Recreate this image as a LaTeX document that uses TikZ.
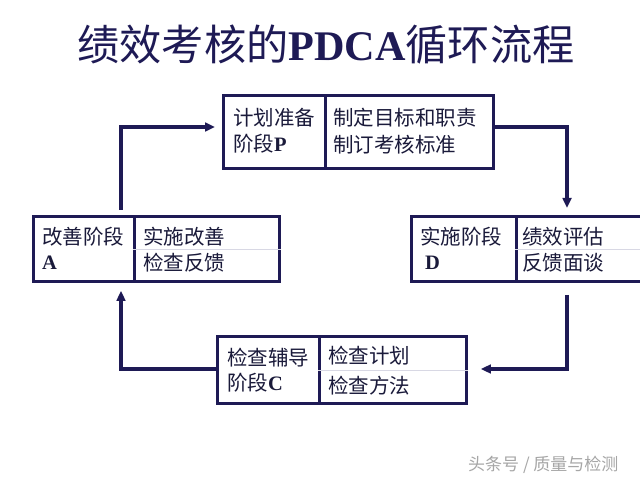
\documentclass[tikz,border=0pt]{standalone}
\usepackage{fontspec}
\setmainfont{Liberation Serif}
\newfontfamily\cjk{Noto Sans CJK SC}
\usetikzlibrary{arrows.meta}
\definecolor{navy}{HTML}{1E1A55}
\definecolor{ink}{HTML}{1A1A3A}
\definecolor{faintline}{HTML}{D8D8E4}
\begin{document}
\begin{tikzpicture}[x=0.03cm,y=-0.03cm,
  cell/.style={draw=navy,line width=2.4pt,inner sep=0pt,anchor=north west},
  txt/.style={font=\cjk\fontsize{17.5}{20}\selectfont,text=ink,inner sep=0pt,anchor=west},
  conn/.style={draw=navy,line width=2.6pt,-{Triangle[length=3mm,width=2.6mm]}},
  faint/.style={draw=faintline,line width=0.6pt}]
\useasboundingbox[fill=white] (0,0) rectangle (640,482);

% title
\node[inner sep=0pt,text=navy,font=\cjk\fontsize{36}{40}\selectfont] (title) at (326,45)
  {绩效考核的{\rmfamily\bfseries PDCA}循环流程};

% P box
\node[cell,minimum width=102*0.03cm,minimum height=73*0.03cm] (Pl) at (222,94) {};
\node[cell,minimum width=168*0.03cm,minimum height=73*0.03cm] (Pr) at (324,94) {};
\node[txt] (p1) at (233,118) {计划准备};
\node[txt] (p2) at (233,144) {阶段{\rmfamily\bfseries P}};
\node[txt] (p3) at (333,118) {制定目标和职责};
\node[txt] (p4) at (333,145) {制订考核标准};

% A box
\node[cell,minimum width=101*0.03cm,minimum height=65*0.03cm] (Al) at (32,215) {};
\node[cell,minimum width=145*0.03cm,minimum height=65*0.03cm] (Ar) at (133,215) {};
\draw[faint] (Ar.west) -- (Ar.east);
\node[txt] (a1) at (42,237) {改善阶段};
\node[txt] (a2) at (42,263) {\rmfamily\bfseries A};
\node[txt] (a3) at (143,237) {实施改善};
\node[txt] (a4) at (143,263) {检查反馈};

% D box
\node[cell,minimum width=105*0.03cm,minimum height=65*0.03cm] (Dl) at (410,215) {};
\node[cell,minimum width=128*0.03cm,minimum height=65*0.03cm] (Dr) at (515,215) {};
\draw[faint] (Dr.west) -- (Dr.east);
\node[txt] (d1) at (420,237) {实施阶段};
\node[txt] (d2) at (425,263) {\rmfamily\bfseries D};
\node[txt] (d3) at (522,237) {绩效评估};
\node[txt] (d4) at (522,263) {反馈面谈};

% C box
\node[cell,minimum width=102*0.03cm,minimum height=67*0.03cm] (Cl) at (216,335) {};
\node[cell,minimum width=147*0.03cm,minimum height=67*0.03cm] (Cr) at (318,335) {};
\draw[faint] (Cr.west) -- (Cr.east);
\node[txt] (c1) at (227,358) {检查辅导};
\node[txt] (c2) at (227,383) {阶段{\rmfamily\bfseries C}};
\node[txt] (c3) at (328,356) {检查计划};
\node[txt] (c4) at (328,386) {检查方法};

% connectors
\coordinate (xr) at (567,0);
\coordinate (xl) at (121,0);
\coordinate (yt) at (0,127);
\coordinate (yb) at (0,369);
\draw[conn,shorten >=7*0.03cm] (Pr.east |- yt) -| (xr |- Dr.north);
\draw[conn,shorten <=12*0.03cm,shorten >=13*0.03cm] (xr |- Dr.south) |- (Cr.east |- yb);
\draw[conn,shorten >=8*0.03cm] (Cl.west |- yb) -| (xl |- Al.south);
\draw[conn,shorten <=5*0.03cm,shorten >=7*0.03cm] (xl |- Al.north) |- (Pl.west |- yt);

% watermark
\node[inner sep=0pt,anchor=west,text=black!35,font=\cjk\fontsize{14.5}{17}\selectfont] (wm) at (468,465)
  {头条号 / 质量与检测};
\end{tikzpicture}
\end{document}
